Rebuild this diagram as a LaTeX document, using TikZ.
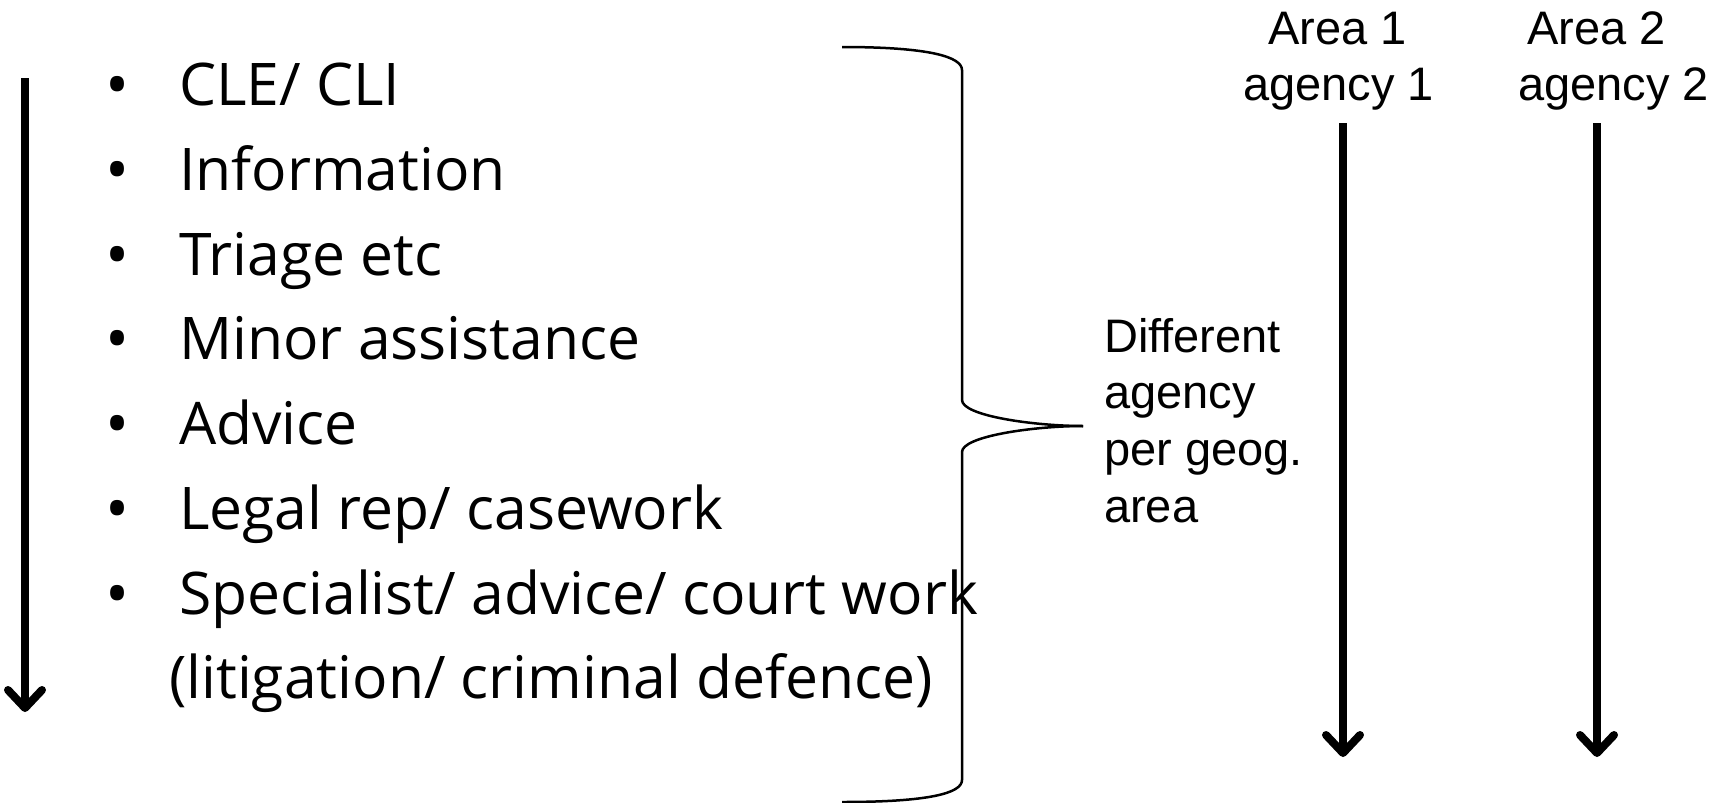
\documentclass[tikz,border=0pt]{standalone}
\usepackage{fontspec}
\setmainfont{Open Sans}
\newfontfamily\labelfont{Liberation Sans}
\usetikzlibrary{arrows.meta}

\tikzset{
  item/.style={anchor=base west, inner sep=0pt, font=\fontsize{58.8}{69}\selectfont},
  bulletmark/.style={anchor=base, inner sep=0pt, font=\fontsize{64}{69}\selectfont},
  arealabel/.style={anchor=base west, inner sep=0pt, font=\labelfont\fontsize{47}{56}\selectfont},
  flow/.style={line width=8pt, -{Straight Barb[length=18pt,width=34pt,line cap=round,line join=round]}},
  brace/.style={line width=2.5pt, line join=round}
}

\begin{document}
\begin{tikzpicture}[x=1pt,y=-1pt]
\useasboundingbox (0,0) rectangle (1724,803);

% left progression arrow
\coordinate (ltop) at (25,78);
\coordinate (lbot) at (25,712);
\draw[flow] (ltop) -- (lbot);

% service list
\foreach \y/\name/\txt in {105/i1/{CLE/ CLI}, 190/i2/{Information}, 275/i3/{Triage etc},
    359/i4/{Minor assistance}, 444/i5/{Advice}, 529/i6/{Legal rep/ casework},
    614/i7/{Specialist/ advice/ court work}}{
  \node[bulletmark] (b\name) at (118,\y+2) {•};
  \node[item] (\name) at (179,\y) {\txt};
}
\node[item] (i8) at (169,698) {(litigation/ criminal defence)};

% brace gathering the list
\coordinate (tip) at (1083,426);
\draw[brace] (842,47) .. controls (930,47) and (962,57) .. (962,70)
  -- (962,400) .. controls (962,416) and (1035,426) .. (tip);
\draw[brace] (tip) .. controls (1035,426) and (962,436) .. (962,452)
  -- (962,780) .. controls (962,793) and (930,802) .. (842,802);

% brace label
\node[arealabel] (d1) at (1104,352) {Different};
\node[arealabel] (d2) at (1104,408.5) {agency};
\node[arealabel] (d3) at (1104,465) {per geog.};
\node[arealabel] (d4) at (1104,522) {area};

% area columns
\node[arealabel] (a1) at (1268,44) {Area 1};
\node[arealabel] (g1) at (1243,100) {agency 1};
\node[arealabel] (a2) at (1527,44) {Area 2};
\node[arealabel] (g2) at (1518,100) {agency 2};

\coordinate (c1top) at (1343,123);
\coordinate (c1bot) at (1343,757);
\coordinate (c2top) at (1597,123);
\coordinate (c2bot) at (1597,757);
\draw[flow] (c1top) -- (c1bot);
\draw[flow] (c2top) -- (c2bot);
\end{tikzpicture}
\end{document}
